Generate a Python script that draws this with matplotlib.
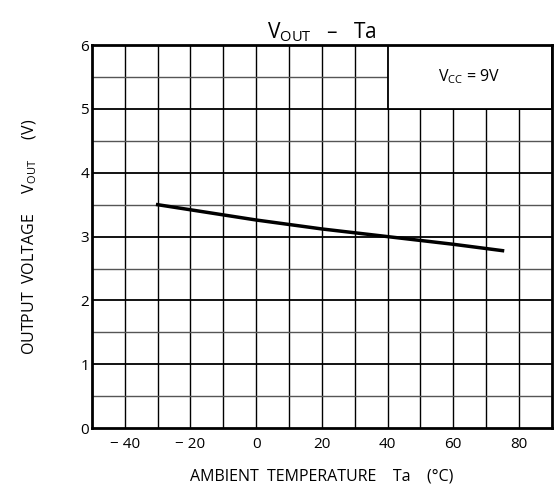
import matplotlib
matplotlib.use("Agg")
import matplotlib.pyplot as plt
from matplotlib.patches import Rectangle
import numpy as np

plt.rcParams['font.family'] = ['Open Sans', 'DejaVu Sans']
plt.rcParams['mathtext.fontset'] = 'custom'
plt.rcParams['mathtext.rm'] = 'Open Sans'

# curve
temp = [-30, -20, 0, 20, 40, 60, 75]
vout = [3.5, 3.42, 3.26, 3.12, 3.0, 2.88, 2.78]

x_ticks = [-40, -20, 0, 20, 40, 60, 80]
x_tick_labels = ['\u2212 40', '\u2212 20', '0', '20', '40', '60', '80']
y_ticks = [0, 1, 2, 3, 4, 5, 6]

fig = plt.figure(figsize=(5.54, 4.95), dpi=100)
ax = fig.add_axes([0.166, 0.135, 0.830, 0.774])

ax.set_xlim(-50, 90)
ax.set_ylim(0, 6)

# grid: vertical every 10, horizontal every 0.5
for xv in np.arange(-40, 90, 10):
    ax.axvline(xv, color='black', lw=1.0, zorder=1)
for yv in y_ticks[1:-1]:
    ax.axhline(yv, color='black', lw=1.3, zorder=1)
for yv in np.arange(0.5, 6, 1.0):
    ax.axhline(yv, color='#555555', lw=1.0, zorder=1)

# condition box
ax.add_patch(Rectangle((40, 5), 50, 1, facecolor='white', edgecolor='black',
                       lw=1.3, zorder=2))
ax.text(65, 5.5, r'V$_\mathregular{CC}$ = 9V', ha='center', va='center',
        fontsize=11.5, zorder=3)

ax.plot(temp, vout, color='black', lw=2.5, zorder=4)

ax.set_xticks(x_ticks)
ax.set_xticklabels(x_tick_labels)
ax.set_yticks(y_ticks)
ax.tick_params(length=0, labelsize=11, pad=6)
ax.tick_params(axis='y', pad=2)
for s in ax.spines.values():
    s.set_linewidth(2)
    s.set_zorder(5)

ax.set_title('V$_\\mathregular{OUT}$   \u2013   Ta', fontsize=15, pad=5)
ax.set_xlabel('AMBIENT  TEMPERATURE    Ta    (\u00b0C)', fontsize=11.5, labelpad=12)
ax.set_ylabel('OUTPUT  VOLTAGE     V$_\\mathregular{OUT}$     (V)', fontsize=11.5, labelpad=30)

fig.savefig('out.png', dpi=100)
